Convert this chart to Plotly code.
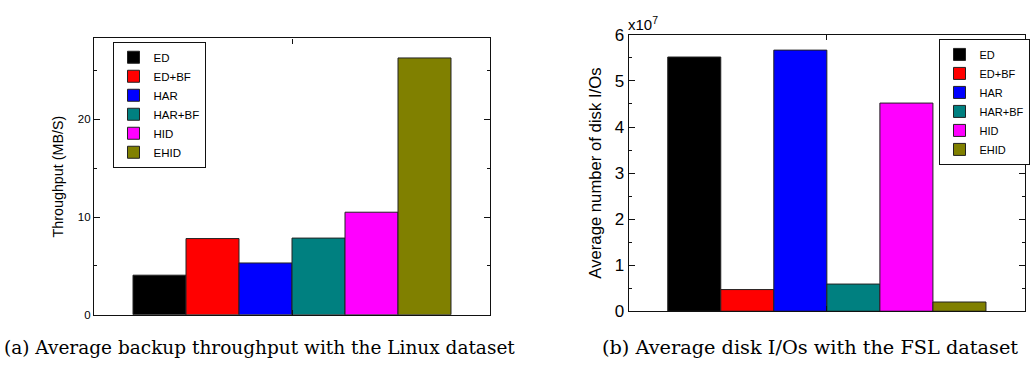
import plotly.graph_objects as go

methods = ["ED", "ED+BF", "HAR", "HAR+BF", "HID", "EHID"]
colors = ["#000000", "#FF0000", "#0000FF", "#008080", "#FF00FF", "#808000"]
throughput = [4.05, 7.8, 5.3, 7.85, 10.5, 26.3]          # MB/S, Linux dataset
disk_ios = [5.52e7, 0.47e7, 5.67e7, 0.59e7, 4.52e7, 0.2e7]  # FSL dataset

left_ticks = [0, 10, 20]
right_ticks = [0, 1e7, 2e7, 3e7, 4e7, 5e7, 6e7]
right_ticktext = ["0", "1", "2", "3", "4", "5", "6"]

caption_a = "(a) Average backup throughput with the Linux dataset"
caption_b = "(b) Average disk I/Os with the FSL dataset"

W, H = 1034, 376
SANS = "Liberation Sans, Arial, sans-serif"
fig = go.Figure()

for i, m in enumerate(methods):
    fig.add_trace(go.Bar(x=[0], y=[throughput[i]], name=m, marker_color=colors[i],
                         marker_line=dict(color="#222222", width=1),
                         xaxis="x", yaxis="y", legend="legend", hoverinfo="y"))
for i, m in enumerate(methods):
    fig.add_trace(go.Bar(x=[0], y=[disk_ios[i]], name=m, marker_color=colors[i],
                         marker_line=dict(color="#222222", width=1),
                         xaxis="x2", yaxis="y2", legend="legend2", hoverinfo="y"))

axis_common = dict(showline=True, linecolor="#111111", linewidth=1.3, mirror="ticks",
                   ticks="inside", tickcolor="#111111", zeroline=False, showgrid=False)

fig.update_layout(
    width=W, height=H,
    margin=dict(l=0, r=0, t=0, b=0),
    paper_bgcolor="white", plot_bgcolor="white",
    barmode="group", bargap=0.197, bargroupgap=0,
    font=dict(family=SANS, color="#000000"),
    showlegend=True,
    xaxis=dict(domain=[94 / W, 490 / W], anchor="y", range=[-0.5, 0.5],
               tickvals=[0], showticklabels=False, ticklen=5, **axis_common),
    yaxis=dict(domain=[(H - 322) / H, (H - 31) / H], anchor="x", range=[0, 28.3],
               tickvals=left_ticks, ticklen=6, tickfont=dict(size=11.5),
               minor=dict(dtick=5, ticks="inside", ticklen=3, tickcolor="#111111"),
               title=dict(text="Throughput (MB/S)", font=dict(size=14.3), standoff=10),
               **axis_common),
    xaxis2=dict(domain=[628.7 / W, 1025 / W], anchor="y2", range=[-0.5, 0.5],
                tickvals=[0], showticklabels=False, ticklen=5, **axis_common),
    yaxis2=dict(domain=[(H - 318.3) / H, (H - 27.3) / H], anchor="x2", range=[0, 6e7],
                tickvals=right_ticks, ticktext=right_ticktext, ticklen=6,
                tickfont=dict(size=17),
                minor=dict(dtick=0.5e7, ticks="inside", ticklen=3, tickcolor="#111111"),
                title=dict(text="Average number of disk I/Os", font=dict(size=16.7), standoff=8),
                **axis_common),
    legend=dict(x=112.5 / W, y=(H - 34.5) / H, xanchor="left", yanchor="top",
                bgcolor="white", bordercolor="#111111", borderwidth=1,
                font=dict(size=11.5), tracegroupgap=0, itemwidth=30),
    legend2=dict(x=938.5 / W, y=(H - 31.5) / H, xanchor="left", yanchor="top",
                 bgcolor="white", bordercolor="#111111", borderwidth=1,
                 font=dict(size=11), tracegroupgap=0, itemwidth=30),
    annotations=[
        dict(text=caption_a, xref="paper", yref="paper", x=259.5 / W, y=(H - 357) / H,
             xanchor="center", yanchor="middle", showarrow=False,
             font=dict(family="DejaVu Serif, serif", size=18.5)),
        dict(text=caption_b, xref="paper", yref="paper", x=809.5 / W, y=(H - 357) / H,
             xanchor="center", yanchor="middle", showarrow=False,
             font=dict(family="DejaVu Serif, serif", size=19.3)),
        dict(text="x10<sup>7</sup>", xref="paper", yref="paper", x=626 / W, y=(H - 27) / H,
             xanchor="left", yanchor="bottom", showarrow=False,
             font=dict(size=15)),
    ],
)

fig.write_html("out.html")
